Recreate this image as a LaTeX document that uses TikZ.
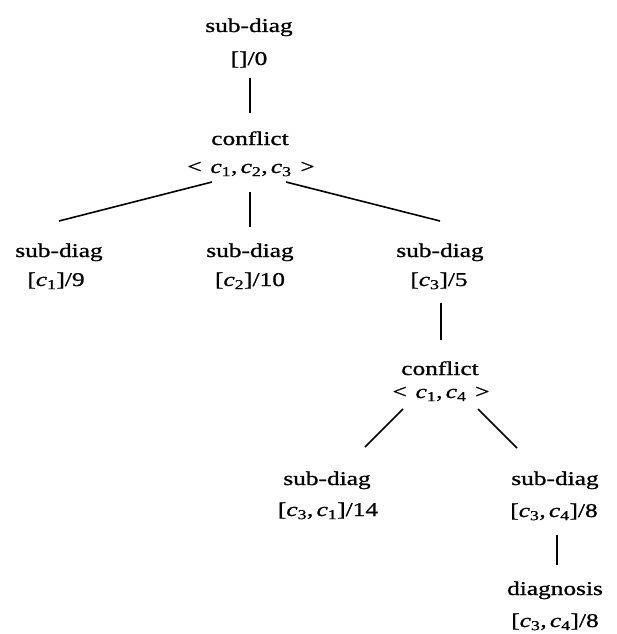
\documentclass[tikz,border=0pt]{standalone}
\usepackage{fontspec}
\setmainfont{Liberation Serif}[FakeStretch=1.3,FakeBold=1]
\newcommand\cs[1]{\textit{c}\textsubscript{#1}}
\newcommand\gap{\hspace{0.45em}}
\tikzset{
  lbl/.style={inner sep=0pt, anchor=base, font=\fontsize{19.5}{23}\selectfont},
  edge/.style={line width=1.6pt}
}
\begin{document}
\begin{tikzpicture}
\useasboundingbox (0pt,0pt) rectangle (617pt,-634pt);
\node[lbl] (r1) at (249pt,-32pt) {sub-diag};
\node[lbl] (r2) at (249pt,-65pt) {[]/0};
\node[lbl] (k1) at (250pt,-145pt) {conflict};
\node[lbl] (k2) at (251pt,-173pt) {<\gap\cs1,\,\cs2,\,\cs3\gap>};
\node[lbl] (a1) at (59pt,-257pt) {sub-diag};
\node[lbl] (a2) at (56pt,-286pt) {[\cs1]/9};
\node[lbl] (b1) at (250pt,-257pt) {sub-diag};
\node[lbl] (b2) at (250pt,-286pt) {[\cs2]/10};
\node[lbl] (d1) at (440pt,-257pt) {sub-diag};
\node[lbl] (d2) at (439pt,-286pt) {[\cs3]/5};
\node[lbl] (m1) at (440pt,-375pt) {conflict};
\node[lbl] (m2) at (441pt,-398pt) {<\gap\cs1,\,\cs4\gap>};
\node[lbl] (e1) at (327pt,-485pt) {sub-diag};
\node[lbl] (e2) at (328pt,-516pt) {[\cs3,\,\cs1]/14};
\node[lbl] (f1) at (555pt,-485pt) {sub-diag};
\node[lbl] (f2) at (554pt,-517pt) {[\cs3,\,\cs4]/8};
\node[lbl] (g1) at (555pt,-595pt) {diagnosis};
\node[lbl] (g2) at (555pt,-627pt) {[\cs3,\,\cs4]/8};
\draw[edge] ([xshift=1pt,yshift=-13pt]r2.base) -- ([yshift=32pt]k1.base);
\draw[edge] ([xshift=-39pt,yshift=-9pt]k2.base) -- ([yshift=36pt]a1.base);
\draw[edge] ([xshift=-1pt,yshift=-19pt]k2.base) -- ([yshift=30pt]b1.base);
\draw[edge] ([xshift=35pt,yshift=-9pt]k2.base) -- ([yshift=36pt]d1.base);
\draw[edge] ([xshift=2pt,yshift=-17pt]d2.base) -- ([xshift=1pt,yshift=35pt]m1.base);
\draw[edge] ([xshift=-38pt,yshift=-11pt]m2.base) -- ([xshift=38pt,yshift=38pt]e1.base);
\draw[edge] ([xshift=37pt,yshift=-11pt]m2.base) -- ([xshift=-38pt,yshift=37pt]f1.base);
\draw[edge] ([xshift=3pt,yshift=-18pt]f2.base) -- ([xshift=2pt,yshift=30pt]g1.base);
\end{tikzpicture}
\end{document}
